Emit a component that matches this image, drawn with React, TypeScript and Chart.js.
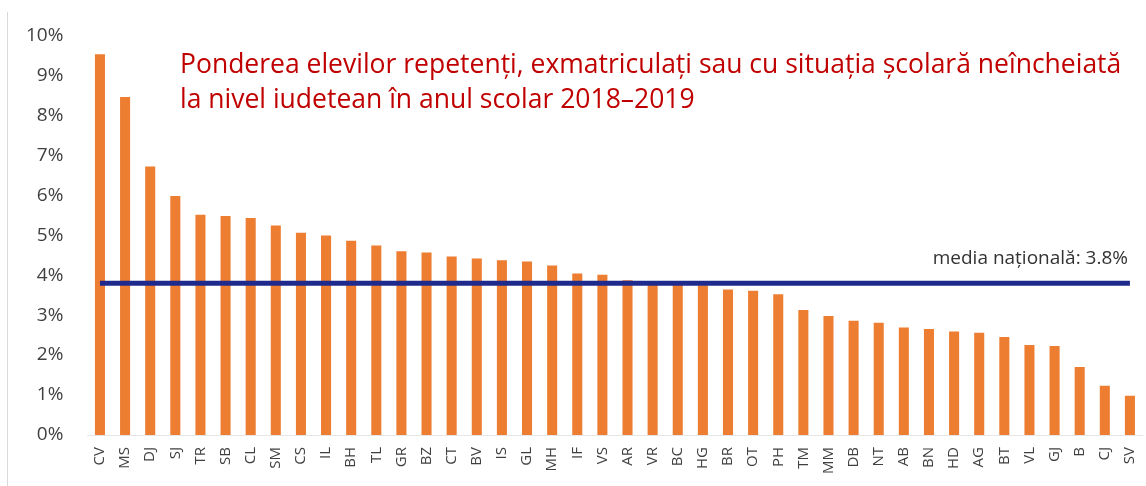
import React, { useEffect, useRef } from "react";
import { Chart, registerables } from "chart.js";

Chart.register(...registerables);

const categories = ["CV","MS","DJ","SJ","TR","SB","CL","SM","CS","IL","BH","TL","GR","BZ","CT","BV","IS","GL","MH","IF","VS","AR","VR","BC","HG","BR","OT","PH","TM","MM","DB","NT","AB","BN","HD","AG","BT","VL","GJ","B","CJ","SV"];
const values = [9.53,8.46,6.72,5.98,5.51,5.48,5.43,5.24,5.06,4.99,4.86,4.74,4.60,4.57,4.47,4.42,4.37,4.34,4.24,4.04,4.01,3.87,3.78,3.77,3.75,3.64,3.61,3.52,3.13,2.98,2.86,2.81,2.69,2.65,2.59,2.56,2.45,2.25,2.23,1.70,1.23,0.98];
const nationalAverage = 3.8;
const yTicks = [0,1,2,3,4,5,6,7,8,9,10];
const titleLines = [
  "Ponderea elevilor repetenți, exmatriculați sau cu situația școlară neîncheiată",
  "la nivel iudetean în anul scolar 2018–2019",
];
const averageLabel = "media națională: 3.8%";

const FONT = "'Open Sans', 'Noto Sans', sans-serif";

export default function App() {
  const ref = useRef<HTMLCanvasElement>(null);
  useEffect(() => {
    document.body.style.margin = "0";
    const canvas = ref.current!;
    const overlay = {
      id: "overlay",
      afterDraw(chart: any) {
        const ctx = chart.ctx;
        ctx.save();
        ctx.strokeStyle = "#d9d9d9";
        ctx.lineWidth = 1;
        ctx.beginPath();
        ctx.moveTo(7.5, 12);
        ctx.lineTo(7.5, 486);
        ctx.stroke();
        ctx.fillStyle = "#c00000";
        ctx.font = `26.5px ${FONT}`;
        ctx.textAlign = "left";
        ctx.textBaseline = "alphabetic";
        ctx.fillText(titleLines[0], 180, 73);
        ctx.fillText(titleLines[1], 180, 108);
        const y = chart.scales.y.getPixelForValue(nationalAverage);
        ctx.fillStyle = "#333333";
        ctx.font = `19px ${FONT}`;
        ctx.textAlign = "right";
        ctx.fillText(averageLabel, 1128, y - 19);
        ctx.restore();
      },
    };
    const chart = new Chart(canvas, {
      type: "bar",
      data: {
        labels: categories,
        datasets: [
          {
            type: "line",
            data: categories.map(() => nationalAverage),
            borderColor: "#1f2b8c",
            borderWidth: 5,
            pointRadius: 0,
            order: 0,
          } as any,
          {
            type: "bar",
            data: values,
            backgroundColor: "#ed7d31",
            barPercentage: 0.4,
            categoryPercentage: 1,
            order: 1,
          },
        ],
      },
      options: {
        animation: false,
        responsive: false,
        layout: { padding: { top: 32, right: 3.5, left: 0, bottom: 0 } },
        plugins: { legend: { display: false }, tooltip: { enabled: false }, title: { display: false } },
        scales: {
          x: {
            grid: { display: false, drawTicks: false },
            border: { display: true, color: "#e6e6e6", width: 1 },
            ticks: {
              minRotation: 90,
              maxRotation: 90,
              autoSkip: false,
              padding: 12,
              color: "#404040",
              font: { family: FONT, size: 15 },
            },
            afterFit(scale: any) {
              scale.height = 51;
              scale.paddingLeft = 0;
              scale.paddingRight = 0;
            },
          },
          y: {
            min: 0,
            max: 10,
            afterBuildTicks(scale: any) { scale.ticks = yTicks.map((v) => ({ value: v })); },
            grid: { display: false, drawTicks: false },
            border: { display: false },
            ticks: {
              padding: 24,
              color: "#404040",
              font: { family: FONT, size: 19 },
              callback: (v: any) => v + "%",
            },
            afterFit(scale: any) { scale.width = 87.4; },
          },
        },
      },
      plugins: [overlay],
    });
    return () => chart.destroy();
  }, []);
  return <canvas ref={ref} width={1146} height={486} style={{ display: "block" }} />;
}
